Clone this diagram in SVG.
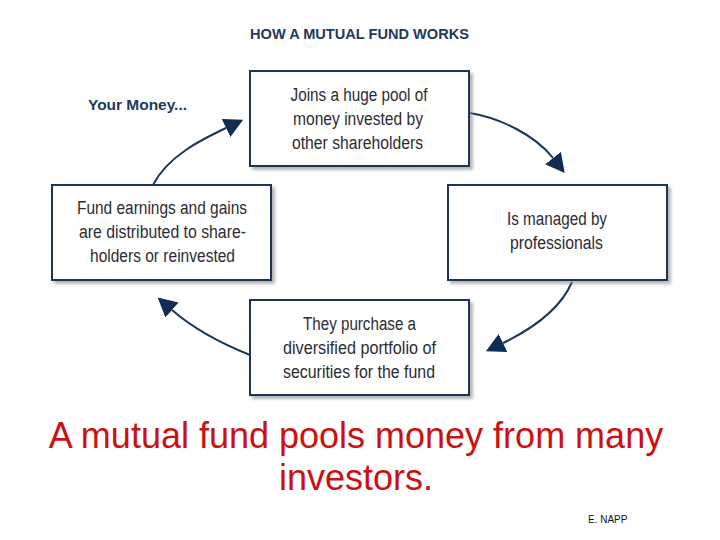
<svg xmlns="http://www.w3.org/2000/svg" width="720" height="540" viewBox="0 0 720 540">
  <style>
    .box { fill: #ffffff; stroke: #1c3557; stroke-width: 2; filter: url(#shadow); }
    .bt { font-family: "Liberation Sans", Arial, sans-serif; font-size: 18px; fill: #2c2c33; text-anchor: middle; }
    .hd { font-family: "Liberation Sans", Arial, sans-serif; font-size: 15.5px; font-weight: bold; fill: #23395b; }
    .conn { fill: none; stroke: #1c3557; stroke-width: 2; }
    .cap { font-family: "Liberation Sans", Arial, sans-serif; font-size: 36px; fill: #cc1111; text-anchor: middle; }
  </style>
  <defs>
    <filter id="shadow" x="-10%" y="-10%" width="125%" height="130%">
      <feDropShadow dx="3" dy="3" stdDeviation="1.5" flood-color="#888888" flood-opacity="0.6"/>
    </filter>
    <marker id="head" viewBox="0 -10 19 20" refX="0" refY="0" markerWidth="19" markerHeight="20" markerUnits="userSpaceOnUse" orient="auto">
      <path d="M0,-10 L19,0 L0,10 z" fill="#0f2d52"/>
    </marker>
  </defs>
  <rect width="720" height="540" fill="#ffffff"/>

  <text class="hd" x="359.5" y="39" text-anchor="middle" textLength="219" lengthAdjust="spacingAndGlyphs">HOW A MUTUAL FUND WORKS</text>
  <text class="hd" x="88" y="110" textLength="99" lengthAdjust="spacingAndGlyphs">Your Money...</text>

  <g id="connectors">
    <path class="conn" d="M153,185 C168,155 205,138 226,128" marker-end="url(#head)"/>
    <path class="conn" d="M470,113 C500,118 535,135 553,158" marker-end="url(#head)"/>
    <path class="conn" d="M572,282 C560,310 530,330 503,343" marker-end="url(#head)"/>
    <path class="conn" d="M250,355 C225,345 195,330 172,310" marker-end="url(#head)"/>
  </g>

  <g id="node-pool">
    <rect class="box" x="250" y="71" width="219" height="95"/>
    <text class="bt" x="359" y="101" textLength="137" lengthAdjust="spacingAndGlyphs">Joins a huge pool of</text>
    <text class="bt" x="358" y="125" textLength="130" lengthAdjust="spacingAndGlyphs">money invested by</text>
    <text class="bt" x="357.5" y="149" textLength="131" lengthAdjust="spacingAndGlyphs">other shareholders</text>
  </g>

  <g id="node-managed">
    <rect class="box" x="448" y="185" width="219" height="95"/>
    <text class="bt" x="557" y="225" textLength="100" lengthAdjust="spacingAndGlyphs">Is managed by</text>
    <text class="bt" x="556.5" y="249" textLength="93" lengthAdjust="spacingAndGlyphs">professionals</text>
  </g>

  <g id="node-purchase">
    <rect class="box" x="250" y="300" width="219" height="95"/>
    <text class="bt" x="359.5" y="330" textLength="113" lengthAdjust="spacingAndGlyphs">They purchase a</text>
    <text class="bt" x="359.5" y="354" textLength="153" lengthAdjust="spacingAndGlyphs">diversified portfolio of</text>
    <text class="bt" x="359" y="378" textLength="152" lengthAdjust="spacingAndGlyphs">securities for the fund</text>
  </g>

  <g id="node-distributed">
    <rect class="box" x="52" y="185" width="219" height="95"/>
    <text class="bt" x="162" y="214" textLength="170" lengthAdjust="spacingAndGlyphs">Fund earnings and gains</text>
    <text class="bt" x="162.5" y="238" textLength="167" lengthAdjust="spacingAndGlyphs">are distributed to share-</text>
    <text class="bt" x="162.5" y="262" textLength="145" lengthAdjust="spacingAndGlyphs">holders or reinvested</text>
  </g>

  <text class="cap" x="356" y="448">A mutual fund pools money from many</text>
  <text class="cap" x="356" y="490">investors.</text>
  <text x="588" y="523" font-family="'Liberation Sans', Arial, sans-serif" font-size="10" fill="#111111">E. NAPP</text>
</svg>
